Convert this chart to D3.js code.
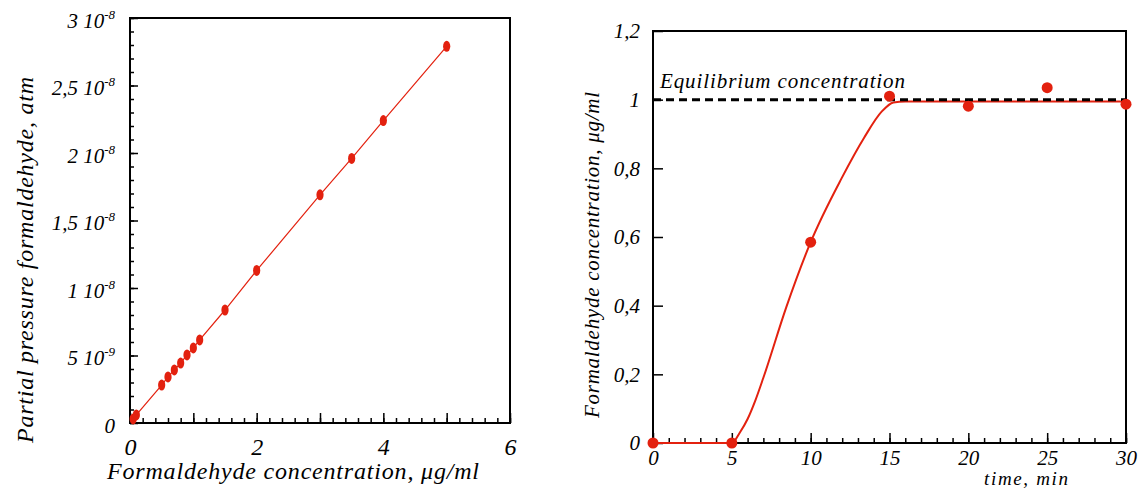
<!DOCTYPE html>
<html>
<head>
<meta charset="utf-8">
<script src="https://cdn.jsdelivr.net/npm/d3@7"></script>
<style>
  body { margin: 0; background: #fff; }
</style>
</head>
<body>
<script>
// left panel: calibration line
var concX = [0.05, 0.1, 0.5, 0.6, 0.7, 0.8, 0.9, 1.0, 1.1, 1.5, 2, 3, 3.5, 4, 5];
var pressY = [0.3e-9, 0.6e-9, 2.81e-9, 3.41e-9, 3.93e-9, 4.44e-9, 5.04e-9, 5.56e-9, 6.15e-9, 8.37e-9, 11.3e-9, 16.9e-9, 19.6e-9, 22.4e-9, 27.9e-9];
var leftXLabels = [0, 2, 4, 6];
var leftYTicks = [0, 5e-9, 1e-8, 1.5e-8, 2e-8, 2.5e-8, 3e-8];
var leftYLabels = ["0", "5 10^-9", "1 10^-8", "1,5 10^-8", "2 10^-8", "2,5 10^-8", "3 10^-8"];

// right panel: kinetics
var timeX = [0, 5, 10, 15, 20, 25, 30];
var concY = [0, 0, 0.585, 1.01, 0.981, 1.035, 0.987];
var fitT = [0, 5, 5.5, 6, 6.5, 7, 8.45, 10, 11.95, 13.4, 14.5, 15.25, 16, 30];
var fitV = [0, 0, 0.03, 0.07, 0.125, 0.19, 0.395, 0.585, 0.77, 0.89, 0.965, 0.992, 0.995, 0.995];
var equilibrium = 1;
var rightXTicks = [0, 5, 10, 15, 20, 25, 30];
var rightYTicks = [0, 0.2, 0.4, 0.6, 0.8, 1, 1.2];
var rightYLabels = ["0", "0,2", "0,4", "0,6", "0,8", "1", "1,2"];

var red = "#e3210f";
var serif = "'Liberation Serif', 'Times New Roman', Times, Tinos, 'Nimbus Roman', FreeSerif, 'DejaVu Serif', serif";

var svg = d3.select("body").append("svg")
    .attr("width", 1140)
    .attr("height", 489);

// ---------- left ----------
var xL = d3.scaleLinear().domain([0, 6]).range([130, 510]);
var yL = d3.scaleLinear().domain([0, 3e-8]).range([423, 18]);

svg.append("g")
    .attr("transform", "translate(0,423)")
    .call(d3.axisBottom(xL).tickValues(d3.range(0, 31).map(function(i){ return i * 0.2; })).tickSize(-5).tickFormat(""))
    .call(function(g){ g.select(".domain").remove(); });

svg.append("g")
    .attr("class", "lx")
    .attr("transform", "translate(0,423)")
    .call(d3.axisBottom(xL).tickValues([0, 1, 2, 3, 4, 5, 6]).tickSize(-10).tickPadding(15)
        .tickFormat(function(d){ return leftXLabels.indexOf(d) >= 0 ? d : ""; }))
    .call(function(g){ g.select(".domain").remove(); });

svg.append("g")
    .attr("transform", "translate(130,0)")
    .call(d3.axisLeft(yL).tickValues(d3.range(0, 31).map(function(i){ return i * 1e-9; })).tickSize(-4).tickFormat(""))
    .call(function(g){ g.select(".domain").remove(); });

svg.append("g")
    .attr("class", "ly")
    .attr("transform", "translate(130,0)")
    .call(d3.axisLeft(yL).tickValues(leftYTicks).tickSize(-8).tickPadding(15).tickFormat(""))
    .call(function(g){ g.select(".domain").remove(); });

svg.selectAll(".ly .tick text").each(function(d, i){
    var t = d3.select(this).attr("dy", "0.45em");
    var parts = leftYLabels[i].split("^");
    t.append("tspan").text(parts[0]);
    if (parts[1]) t.append("tspan").attr("dy", "-9").attr("font-size", 13).text(parts[1]);
});

svg.selectAll(".lx text").attr("font-size", 24);
svg.selectAll(".ly text").attr("font-size", 21);

svg.append("rect")
    .attr("x", 130).attr("y", 18).attr("width", 380).attr("height", 405)
    .attr("fill", "none").attr("stroke", "#000").attr("stroke-width", 2);

var leftPts = concX.map(function(d, i){ return [d, pressY[i]]; });

svg.append("path")
    .datum(leftPts)
    .attr("fill", "none")
    .attr("stroke", red)
    .attr("stroke-width", 1.2)
    .attr("d", d3.line().x(function(d){ return xL(d[0]); }).y(function(d){ return yL(d[1]); }));

svg.selectAll(".ldot")
    .data(leftPts)
    .enter().append("ellipse")
    .attr("class", "ldot")
    .attr("cx", function(d){ return xL(d[0]); })
    .attr("cy", function(d){ return yL(d[1]); })
    .attr("rx", 3.6)
    .attr("ry", 5.5)
    .attr("fill", red);

svg.append("text")
    .attr("x", 107).attr("y", 479)
    .attr("font-size", 24)
    .attr("textLength", 372)
    .text("Formaldehyde concentration, \u03bcg/ml");

svg.append("text")
    .attr("transform", "translate(33,260) rotate(-90)")
    .attr("text-anchor", "middle")
    .attr("font-size", 24)
    .attr("textLength", 366)
    .text("Partial pressure formaldehyde, atm");

// ---------- right ----------
var xR = d3.scaleLinear().domain([0, 30]).range([653, 1126]);
var yR = d3.scaleLinear().domain([0, 1.2]).range([443, 31]);

svg.append("g")
    .attr("transform", "translate(0,443)")
    .call(d3.axisBottom(xR).tickValues(d3.range(0, 31)).tickSize(-5).tickFormat(""))
    .call(function(g){ g.select(".domain").remove(); });

svg.append("g")
    .attr("class", "rx")
    .attr("transform", "translate(0,443)")
    .call(d3.axisBottom(xR).tickValues(rightXTicks).tickSize(-10).tickPadding(7).tickFormat(function(d){ return d; }))
    .call(function(g){ g.select(".domain").remove(); });

svg.append("g")
    .attr("class", "ry")
    .attr("transform", "translate(653,0)")
    .call(d3.axisLeft(yR).tickValues(rightYTicks).tickSize(-10).tickPadding(13)
        .tickFormat(function(d, i){ return rightYLabels[i]; }))
    .call(function(g){ g.select(".domain").remove(); });

svg.selectAll(".rx text").attr("font-size", 21);
svg.selectAll(".ry text").attr("font-size", 21);

svg.append("rect")
    .attr("x", 653).attr("y", 31).attr("width", 473).attr("height", 412)
    .attr("fill", "none").attr("stroke", "#000").attr("stroke-width", 2);

var fitPts = fitT.map(function(d, i){ return [d, fitV[i]]; });

svg.append("path")
    .datum(fitPts)
    .attr("fill", "none")
    .attr("stroke", red)
    .attr("stroke-width", 2)
    .attr("d", d3.line().curve(d3.curveMonotoneX).x(function(d){ return xR(d[0]); }).y(function(d){ return yR(d[1]); }));

svg.append("line")
    .attr("x1", xR(0)).attr("x2", xR(30))
    .attr("y1", yR(equilibrium)).attr("y2", yR(equilibrium))
    .attr("stroke", "#000")
    .attr("stroke-width", 3)
    .attr("stroke-dasharray", "8,5");

svg.selectAll(".rdot")
    .data(timeX.map(function(d, i){ return [d, concY[i]]; }))
    .enter().append("circle")
    .attr("class", "rdot")
    .attr("cx", function(d){ return xR(d[0]); })
    .attr("cy", function(d){ return yR(d[1]); })
    .attr("r", 5.5)
    .attr("fill", red);

svg.append("text")
    .attr("x", 660).attr("y", 88)
    .attr("font-size", 21)
    .attr("textLength", 245)
    .text("Equilibrium concentration");

svg.append("text")
    .attr("x", 984).attr("y", 485)
    .attr("font-size", 19)
    .attr("textLength", 84)
    .text("time, min");

svg.append("text")
    .attr("transform", "translate(599,255) rotate(-90)")
    .attr("text-anchor", "middle")
    .attr("font-size", 21)
    .attr("textLength", 326)
    .text("Formaldehyde concentration, \u03bcg/ml");

svg.selectAll(".tick line").attr("stroke", "#000").attr("stroke-width", 1.5);
svg.selectAll("text")
    .style("font-family", serif)
    .style("font-style", "italic")
    .attr("fill", "#000");
</script>
</body>
</html>
